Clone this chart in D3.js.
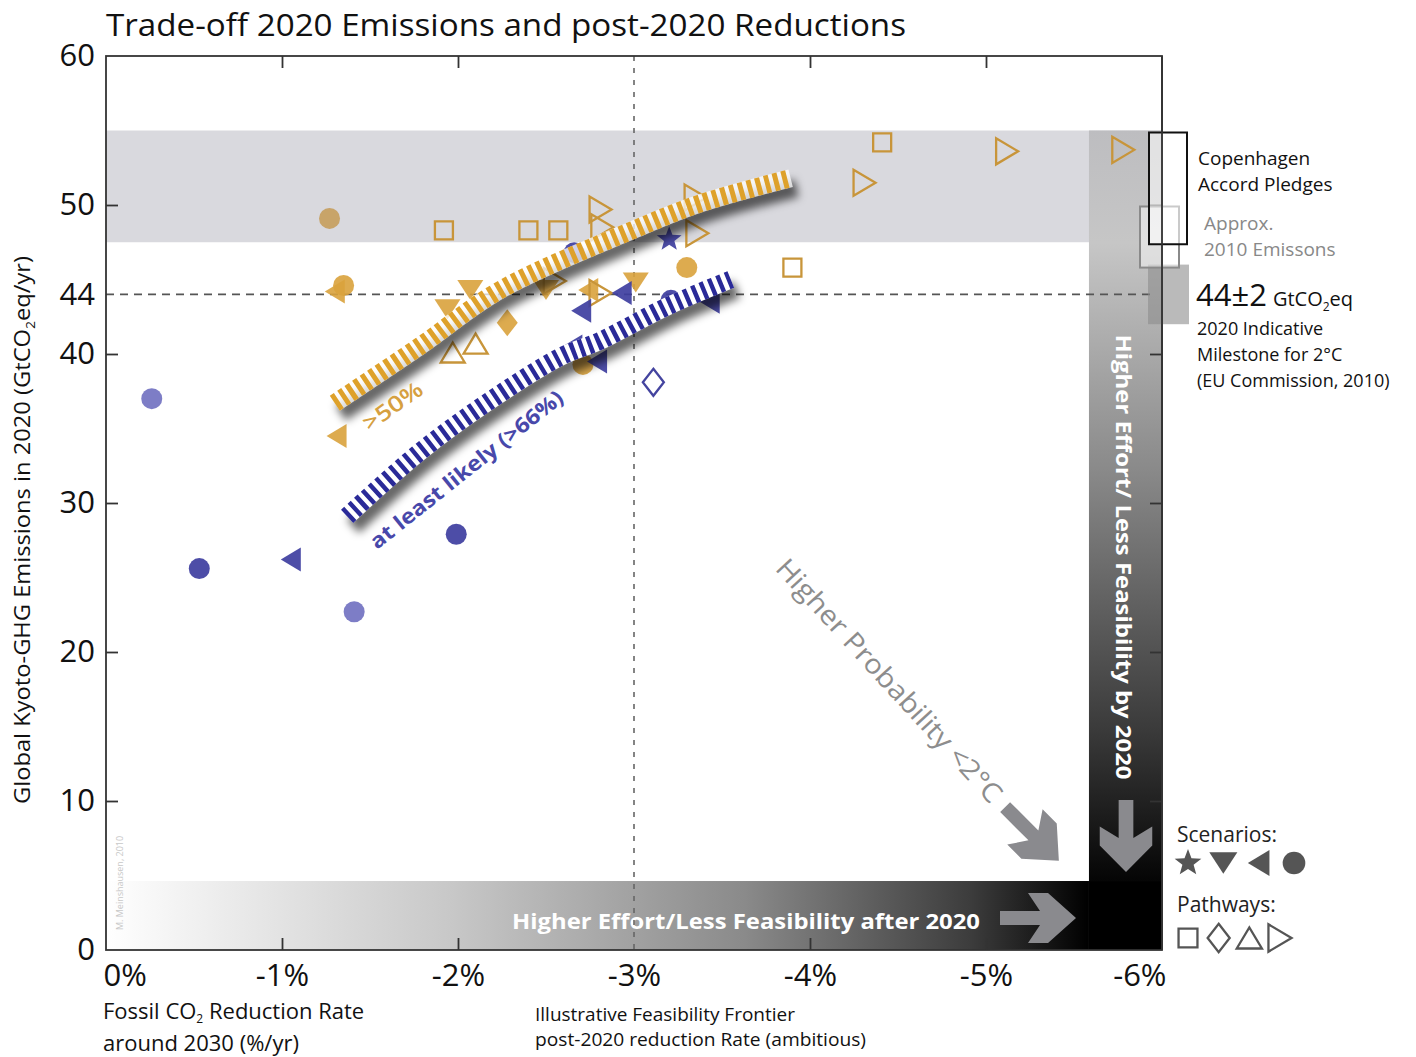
<!DOCTYPE html>
<html><head><meta charset="utf-8">
<script src="https://cdn.jsdelivr.net/npm/d3@7"></script>
<style>body{margin:0;background:#fff;} svg{display:block;font-family:"Open Sans","Noto Sans",sans-serif;}</style>
</head><body><svg id="c" width="1416" height="1057"></svg>
<script>
// ---------------- DATA ----------------
const xTicks = [0, -1, -2, -3, -4, -5, -6];
const xTickLabels = ["0%", "-1%", "-2%", "-3%", "-4%", "-5%", "-6%"];
const yTicks = [0, 10, 20, 30, 40, 44, 50, 60];
const yTickLabels = ["0", "10", "20", "30", "40", "44", "50", "60"];

// filled markers (scenarios), gold = >50% group
const goldScenarios = [
  {x:-1.35,y:44.6,s:"circle"},{x:-1.30,y:44.2,s:"left"},{x:-1.31,y:34.5,s:"left"},
  {x:-2.07,y:44.3,s:"down"},{x:-1.94,y:43.0,s:"down"},{x:-2.28,y:42.1,s:"diamond"},
  {x:-2.50,y:44.3,s:"down"},{x:-2.74,y:44.3,s:"left"},{x:-3.01,y:44.8,s:"down"},
  {x:-3.30,y:45.8,s:"circle"},{x:-2.71,y:39.3,s:"circle"}
];
const goldPaleScenarios = [{x:-1.27,y:49.1,s:"circle"}];
// open markers (pathways), gold
const goldPathways = [
  {x:-1.92,y:48.3,s:"square"},{x:-2.40,y:48.3,s:"square"},{x:-2.57,y:48.3,s:"square"},
  {x:-2.81,y:49.7,s:"right"},{x:-2.82,y:48.5,s:"right"},{x:-3.35,y:50.5,s:"right"},
  {x:-3.36,y:48.1,s:"right"},{x:-4.41,y:54.2,s:"square"},{x:-4.31,y:51.5,s:"right"},
  {x:-5.12,y:53.6,s:"right"},{x:-5.78,y:53.7,s:"right"},{x:-3.90,y:45.8,s:"square"},
  {x:-1.97,y:40.1,s:"up"},{x:-2.10,y:40.7,s:"up"},{x:-2.81,y:44.1,s:"right"},
  {x:-2.55,y:44.9,s:"right"}
];
// blue = likely (>66%) group
const blueScenarios = [
  {x:-0.53,y:25.6,s:"circle"},{x:-1.05,y:26.2,s:"left"},{x:-1.99,y:27.9,s:"circle"},
  {x:-2.66,y:46.8,s:"circle"},{x:-3.20,y:47.7,s:"star"},{x:-2.93,y:44.1,s:"left"},
  {x:-2.70,y:42.9,s:"left"},{x:-3.21,y:43.6,s:"circle"},{x:-3.43,y:43.5,s:"left"},
  {x:-2.65,y:40.5,s:"left"},{x:-2.79,y:39.5,s:"left"}
];
const bluePaleScenarios = [{x:-0.26,y:37.0,s:"circle"},{x:-1.41,y:22.7,s:"circle"}];
const bluePathways = [{x:-3.11,y:38.1,s:"diamond"}];

// illustrative frontier bands [rate %, GtCO2eq]
const frontier50 = [[-1.30,36.7],[-1.78,40.5],[-2.24,44.3],[-2.99,48.3],[-3.375,50.1],[-3.89,51.8]];
const frontier66 = [[-1.37,29.1],[-1.78,33.4],[-2.16,36.7],[-2.58,39.8],[-2.81,40.9],[-3.19,43.2],[-3.55,45.0]];

// reference ranges (GtCO2eq)
const pledgeRange = [47.5, 55.0];      // Copenhagen Accord pledges (also grey band)
const emis2010Range = [45.8, 49.9];    // approx. 2010 emissions
const milestoneRange = [42, 46];       // 44±2
const milestone = 44;
const frontierRate = -3;
const effortRateLimit = -5.585;        // start of "by 2020" bar
const effortEmisLimit = 4.63;          // top of "after 2020" bar

// ---------------- CHART ----------------
const svg = d3.select("#c");
const x = d3.scaleLinear().domain([0, -6]).range([106, 1162]);
const y = d3.scaleLinear().domain([0, 60]).range([950, 56]);
const X0 = x(0), X1 = x(-6), Y0 = y(0), Y1 = y(60);

const defs = svg.append("defs");
const gv = defs.append("linearGradient").attr("id","gv").attr("gradientUnits","userSpaceOnUse")
  .attr("x1",0).attr("x2",0).attr("y1",y(pledgeRange[1])).attr("y2",y(effortEmisLimit));
[[0,"#bdbdc0"],[0.15,"#c6c6c6"],[0.45,"#8a8a8a"],[0.8,"#3a3a3a"],[1,"#050505"]]
  .forEach(s=>gv.append("stop").attr("offset",s[0]).attr("stop-color",s[1]));
const gh = defs.append("linearGradient").attr("id","gh").attr("gradientUnits","userSpaceOnUse")
  .attr("x1",X0).attr("x2",x(effortRateLimit)).attr("y1",0).attr("y2",0);
[[0,"#ffffff"],[0.08,"#f2f2f2"],[0.35,"#c8c8c8"],[0.65,"#8a8a8a"],[0.88,"#3c3c3c"],[1,"#000"]]
  .forEach(s=>gh.append("stop").attr("offset",s[0]).attr("stop-color",s[1]));
const fsh = defs.append("filter").attr("id","shadow").attr("x","-20%").attr("y","-20%").attr("width","140%").attr("height","140%");
fsh.append("feGaussianBlur").attr("stdDeviation",4.5);

// grey band
svg.append("rect").attr("x",X0).attr("width",X1-X0)
  .attr("y",y(pledgeRange[1])).attr("height",y(pledgeRange[0])-y(pledgeRange[1]))
  .attr("fill","#d9d9de");

// effort bars
svg.append("rect").attr("x",x(effortRateLimit)).attr("width",X1-x(effortRateLimit))
  .attr("y",y(pledgeRange[1])).attr("height",y(effortEmisLimit)-y(pledgeRange[1]))
  .attr("fill","url(#gv)");
svg.append("rect").attr("x",X0).attr("width",x(effortRateLimit)-X0)
  .attr("y",y(effortEmisLimit)).attr("height",Y0-y(effortEmisLimit)).attr("fill","url(#gh)");
svg.append("rect").attr("x",x(effortRateLimit)).attr("width",X1-x(effortRateLimit))
  .attr("y",y(effortEmisLimit)).attr("height",Y0-y(effortEmisLimit)).attr("fill","#000");

// watermark
svg.append("text").attr("transform",`translate(123,${y(4.5)}) rotate(-90)`).attr("text-anchor","middle")
  .attr("font-size",9).attr("fill","#c8c8c8").text("M. Meinshausen, 2010");

// bar texts
svg.append("text").attr("x",512).attr("y",929).attr("font-size",22).attr("font-weight",700)
  .attr("fill","#fff").attr("textLength",468).attr("lengthAdjust","spacingAndGlyphs")
  .text("Higher Effort/Less Feasibility after 2020");
svg.append("text").attr("transform",`translate(${(x(effortRateLimit)+X1)/2},557) rotate(90)`)
  .attr("text-anchor","middle").attr("dominant-baseline","central").attr("font-size",22)
  .attr("font-weight",700).attr("fill","#fff").attr("textLength",445).attr("lengthAdjust","spacingAndGlyphs")
  .text("Higher Effort/ Less Feasibility by 2020");

// arrows
const arrowPath = "M-38,-7L2,-7L-10,-25L10,-25L38,0L10,25L-10,25L2,7L-38,7Z";
svg.append("path").attr("d",arrowPath).attr("fill","#8a8a8e").attr("transform","translate(1038,918)");
svg.append("path").attr("d",arrowPath).attr("fill","#8a8a8e").attr("transform","translate(1126,836) rotate(90) scale(0.95,1.05)");
svg.append("path").attr("d",arrowPath).attr("fill","#8a8a8e").attr("transform","translate(1032,834) rotate(45)");

svg.append("text").attr("transform","translate(890,680) rotate(47.5)").attr("text-anchor","middle")
  .attr("dominant-baseline","central").attr("font-size",27).attr("fill","#8d8d8d")
  .attr("textLength",320).attr("lengthAdjust","spacingAndGlyphs").text("Higher Probability <2°C");

// dashed reference lines
svg.append("line").attr("x1",X0).attr("x2",1150).attr("y1",y(milestone)).attr("y2",y(milestone))
  .attr("stroke","#555").attr("stroke-width",1.6).attr("stroke-dasharray","8,6");
svg.append("line").attr("x1",x(frontierRate)).attr("x2",x(frontierRate)).attr("y1",Y1).attr("y2",Y0)
  .attr("stroke","#666").attr("stroke-width",1.6).attr("stroke-dasharray","5,7");

// shapes
function star(R){const r=R*0.42;let p="";for(let i=0;i<10;i++){const a=-Math.PI/2+i*Math.PI/5;const rr=i%2?r:R;p+=(i?"L":"M")+(rr*Math.cos(a)).toFixed(2)+","+(rr*Math.sin(a)).toFixed(2);}return p+"Z";}
function shapePath(s,k){k=k||1;
  switch(s){
    case "circle": {const r=10.5*k;return `M${r},0A${r},${r} 0 1,1 ${-r},0A${r},${r} 0 1,1 ${r},0Z`;}
    case "star": return star(13*k);
    case "down": {const w=13*k,h=10*k;return `M${-w},${-h}L${w},${-h}L0,${h}Z`;}
    case "left": {const w=10*k,h=12*k;return `M${w},${-h}L${w},${h}L${-w},0Z`;}
    case "right":{const w=11*k,h=13*k;return `M${-w},${-h}L${-w},${h}L${w},0Z`;}
    case "up":   {const w=12*k,h=10*k;return `M${-w},${h}L${w},${h}L0,${-h}Z`;}
    case "square":{const a=9*k;return `M${-a},${-a}L${a},${-a}L${a},${a}L${-a},${a}Z`;}
    case "diamond":{const w=10.5*k,h=13.5*k;return `M0,${-h}L${w},0L0,${h}L${-w},0Z`;}
  }
}
function drawFilled(data,color,op){
  svg.append("g").selectAll("path").data(data).join("path")
    .attr("d",d=>shapePath(d.s)).attr("transform",d=>`translate(${x(d.x)},${y(d.y)})`)
    .attr("fill",color).attr("fill-opacity",op);
}
function drawOpen(data,color){
  svg.append("g").selectAll("path").data(data).join("path")
    .attr("d",d=>shapePath(d.s)).attr("transform",d=>`translate(${x(d.x)},${y(d.y)})`)
    .attr("fill","none").attr("stroke",color).attr("stroke-width",2.3);
}
drawFilled(goldPaleScenarios,"#c49a55",0.85);
drawFilled(bluePaleScenarios,"#6f6fc0",0.9);
drawFilled(goldScenarios,"#d9a23c",0.9);
drawOpen(goldPathways,"#c8953a");
drawFilled(blueScenarios,"#3e3ea0",0.92);
drawOpen(bluePathways,"#44449f");

// frontier bands
const line = d3.line().x(d=>x(d[0])).y(d=>y(d[1])).curve(d3.curveCatmullRom.alpha(0.5));
function band(data,color,dash,under){
  const g=svg.append("g");
  g.append("path").attr("d",line(data)).attr("fill","none").attr("stroke","#000").attr("stroke-opacity",0.6)
    .attr("stroke-width",18).attr("filter","url(#shadow)").attr("transform","translate(6,10)");
  g.append("path").attr("d",line(data)).attr("fill","none").attr("stroke","#fff").attr("stroke-opacity",under)
    .attr("stroke-width",18);
  g.append("path").attr("d",line(data)).attr("fill","none").attr("stroke",color)
    .attr("stroke-width",18).attr("stroke-dasharray",dash);
}
band(frontier50,"#dea12a","5,4",0.75);
band(frontier66,"#2a2a98","4.5,4.5",1);

svg.append("text").attr("transform","translate(392,405) rotate(-35)").attr("text-anchor","middle")
  .attr("dominant-baseline","central").attr("font-size",22).attr("font-weight",600).attr("fill","#d6a040")
  .attr("textLength",68).attr("lengthAdjust","spacingAndGlyphs").text(">50%");
svg.append("text").attr("transform","translate(466,469) rotate(-38.5)").attr("text-anchor","middle")
  .attr("dominant-baseline","central").attr("font-size",21).attr("font-weight",700).attr("fill","#4848aa")
  .attr("textLength",240).attr("lengthAdjust","spacingAndGlyphs").text("at least likely (>66%)");

// frame & ticks
const frame = svg.append("g").attr("stroke","#333").attr("stroke-width",1.8);
frame.append("rect").attr("x",X0).attr("y",Y1).attr("width",X1-X0).attr("height",Y0-Y1).attr("fill","none");
const inner = [-1,-2,-4,-5];
svg.append("g").attr("transform",`translate(0,${Y1})`).call(d3.axisBottom(x).tickValues(inner).tickSize(12).tickFormat(""))
  .call(g=>g.select(".domain").remove()).call(g=>g.selectAll("line").attr("stroke","#333").attr("stroke-width",1.8));
svg.append("g").attr("transform",`translate(0,${Y0})`).call(d3.axisTop(x).tickValues(inner).tickSize(12).tickFormat(""))
  .call(g=>g.select(".domain").remove()).call(g=>g.selectAll("line").attr("stroke","#333").attr("stroke-width",1.8));
const yin=[10,20,30,40,50];
svg.append("g").attr("transform",`translate(${X0},0)`).call(d3.axisRight(y).tickValues(yin).tickSize(12).tickFormat(""))
  .call(g=>g.select(".domain").remove()).call(g=>g.selectAll("line").attr("stroke","#333").attr("stroke-width",1.8));
svg.append("g").attr("transform",`translate(${X1},0)`).call(d3.axisLeft(y).tickValues(yin).tickSize(12).tickFormat(""))
  .call(g=>g.select(".domain").remove()).call(g=>g.selectAll("line").attr("stroke","#333").attr("stroke-width",1.8));

// tick labels
svg.append("g").attr("transform",`translate(0,${Y0})`)
  .call(d3.axisBottom(x).tickValues(xTicks).tickSize(0).tickPadding(14).tickFormat((d,i)=>xTickLabels[i]))
  .call(g=>g.select(".domain").remove())
  .call(g=>g.selectAll("text").attr("font-size",31).attr("fill","#111").attr("font-family","'Open Sans',sans-serif")
     .attr("text-anchor",(d,i)=>i===0?"start":(i===xTicks.length-1?"end":"middle"))
     .attr("dx",(d,i)=>i===0?-3:(i===xTicks.length-1?4:0)));
svg.append("g").attr("transform",`translate(${X0},0)`)
  .call(d3.axisLeft(y).tickValues(yTicks).tickSize(0).tickPadding(11).tickFormat((d,i)=>yTickLabels[i]))
  .call(g=>g.select(".domain").remove())
  .call(g=>g.selectAll("text").attr("font-size",31).attr("fill","#111").attr("font-family","'Open Sans',sans-serif"));

// title & axis titles
svg.append("text").attr("x",106).attr("y",36).attr("font-size",31).attr("fill","#111")
  .attr("textLength",800).attr("lengthAdjust","spacingAndGlyphs").text("Trade-off 2020 Emissions and post-2020 Reductions");
const yt = svg.append("text").attr("transform","translate(30,530) rotate(-90)").attr("text-anchor","middle")
  .attr("font-size",22).attr("fill","#111").attr("textLength",548).attr("lengthAdjust","spacingAndGlyphs");
yt.append("tspan").text("Global Kyoto-GHG Emissions in 2020 (GtCO");
yt.append("tspan").attr("font-size",13).attr("dy",5).text("2");
yt.append("tspan").attr("dy",-5).text("eq/yr)");

const xt1 = svg.append("text").attr("x",103).attr("y",1019).attr("font-size",22).attr("fill","#111");
xt1.append("tspan").text("Fossil CO");
xt1.append("tspan").attr("font-size",12).attr("dy",4).text("2");
xt1.append("tspan").attr("dy",-4).text(" Reduction Rate");
svg.append("text").attr("x",103).attr("y",1051).attr("font-size",22).attr("fill","#111").text("around 2030 (%/yr)");
svg.append("text").attr("x",535).attr("y",1021).attr("font-size",18).attr("fill","#111")
  .attr("textLength",260).attr("lengthAdjust","spacingAndGlyphs").text("Illustrative Feasibility Frontier");
svg.append("text").attr("x",535).attr("y",1046).attr("font-size",18).attr("fill","#111")
  .attr("textLength",331).attr("lengthAdjust","spacingAndGlyphs").text("post-2020 reduction Rate (ambitious)");

// reference boxes at right
svg.append("rect").attr("x",1148).attr("width",41).attr("y",y(milestoneRange[1])).attr("height",y(milestoneRange[0])-y(milestoneRange[1]))
  .attr("fill","#8c8c8c").attr("fill-opacity",0.6);
svg.append("rect").attr("x",1140).attr("width",39).attr("y",y(emis2010Range[1])).attr("height",y(emis2010Range[0])-y(emis2010Range[1]))
  .attr("fill","#fff").attr("fill-opacity",0.45).attr("stroke","#8a8a8a").attr("stroke-width",2);
svg.append("rect").attr("x",1149).attr("width",38).attr("y",y(pledgeRange[1])+2).attr("height",y(pledgeRange[0])-y(pledgeRange[1]))
  .attr("fill","#fff").attr("fill-opacity",0.55).attr("stroke","#111").attr("stroke-width",2);
svg.append("line").attr("x1",X1).attr("x2",X1).attr("y1",Y1).attr("y2",Y0).attr("stroke","#333").attr("stroke-width",1.8);

const rt = svg.append("g").attr("fill","#111");
rt.append("text").attr("x",1198).attr("y",165).attr("font-size",19).text("Copenhagen");
rt.append("text").attr("x",1198).attr("y",191).attr("font-size",19).text("Accord Pledges");
rt.append("text").attr("x",1204).attr("y",230).attr("font-size",19).attr("fill","#888").text("Approx.");
rt.append("text").attr("x",1204).attr("y",256).attr("font-size",19).attr("fill","#888").text("2010 Emissons");
const mt = rt.append("text").attr("x",1196).attr("y",306);
mt.append("tspan").attr("font-size",31).text("44±2");
mt.append("tspan").attr("font-size",20).attr("dx",6).text("GtCO");
mt.append("tspan").attr("font-size",12).attr("dy",5).text("2");
mt.append("tspan").attr("font-size",20).attr("dy",-5).text("eq");
rt.append("text").attr("x",1197).attr("y",335).attr("font-size",18).text("2020 Indicative");
rt.append("text").attr("x",1197).attr("y",361).attr("font-size",18).text("Milestone for 2°C");
rt.append("text").attr("x",1197).attr("y",387).attr("font-size",18).text("(EU Commission, 2010)");

// legend
const legendScen = ["star","down","left","circle"];
const legendPath = ["square","diamond","up","right"];
const lg = svg.append("g");
lg.append("text").attr("x",1177).attr("y",842).attr("font-size",21).attr("fill","#222").text("Scenarios:");
lg.append("text").attr("x",1177).attr("y",912).attr("font-size",21).attr("fill","#222").text("Pathways:");
const lsx = d3.scalePoint().domain(legendScen).range([1188,1294]);
lg.selectAll(".ls").data(legendScen).join("path").attr("d",d=>shapePath(d,1.08))
  .attr("transform",d=>`translate(${lsx(d)},863)`).attr("fill","#555");
const lpx = d3.scalePoint().domain(legendPath).range([1188,1280]);
lg.selectAll(".lp").data(legendPath).join("path").attr("d",d=>shapePath(d,1.05))
  .attr("transform",d=>`translate(${lpx(d)},938)`).attr("fill","none").attr("stroke","#555").attr("stroke-width",2.3);
</script></body></html>
